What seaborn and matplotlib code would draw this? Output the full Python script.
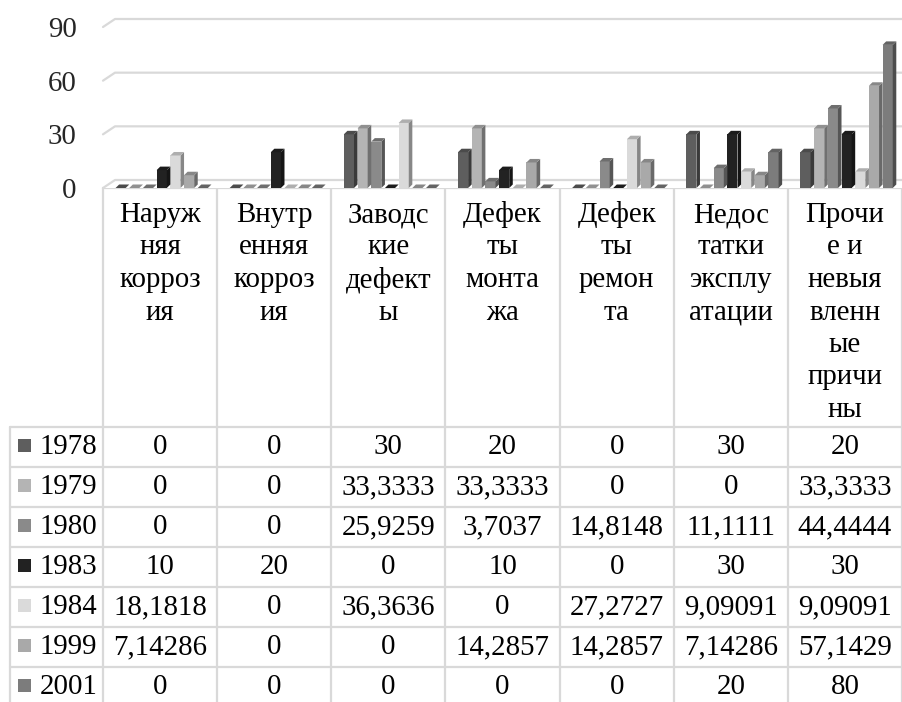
import matplotlib
matplotlib.use("Agg")
from matplotlib import pyplot as plt
from matplotlib.patches import Polygon, Rectangle
from matplotlib.lines import Line2D
from matplotlib.transforms import IdentityTransform
import pandas as pd
import seaborn as sns

# categories (full names) and the way Excel wraps them in the data table
categories = ["Наружняя коррозия", "Внутренняя коррозия", "Заводские дефекты",
              "Дефекты монтажа", "Дефекты ремонта", "Недостатки эксплуатации",
              "Прочие и невыявленные причины"]
category_labels = ["Наруж\nняя\nкорроз\nия", "Внутр\nенняя\nкорроз\nия",
                   "Заводс\nкие\nдефект\nы", "Дефек\nты\nмонта\nжа",
                   "Дефек\nты\nремон\nта", "Недос\nтатки\nэксплу\nатации",
                   "Прочи\nе и\nневыя\nвленн\nые\nпричи\nны"]
years = ["1978", "1979", "1980", "1983", "1984", "1999", "2001"]
v1978 = [0, 0, 30, 20, 0, 30, 20]
v1979 = [0, 0, 33.3333, 33.3333, 0, 0, 33.3333]
v1980 = [0, 0, 25.9259, 3.7037, 14.8148, 11.1111, 44.4444]
v1983 = [10, 20, 0, 10, 0, 30, 30]
v1984 = [18.1818, 0, 36.3636, 0, 27.2727, 9.09091, 9.09091]
v1999 = [7.14286, 0, 0, 14.2857, 14.2857, 7.14286, 57.1429]
v2001 = [0, 0, 0, 0, 0, 20, 80]
y_ticks = [0, 30, 60, 90]

colors = ["#5e5e5e", "#b4b4b4", "#8a8a8a", "#222222", "#dadada", "#a9a9a9", "#7c7c7c"]
GRID = "#d9d9d9"
FONT = ["Liberation Serif", "DejaVu Serif"]
FS = 20.8


def shade(c, k):
    r, g, b = matplotlib.colors.to_rgb(c)
    return (r * k, g * k, b * k)


def fmt(v):
    return f"{v:.6g}".replace(".", ",")


def main():
    sns.set_style("white")
    plt.rcParams["font.family"] = FONT

    series = [v1978, v1979, v1980, v1983, v1984, v1999, v2001]
    df = pd.DataFrame({y: s for y, s in zip(years, series)}, index=categories)
    df = df.reset_index(names="Причина").melt(id_vars="Причина", var_name="Год",
                                               value_name="Доля")

    W, H = 902, 702
    fig = plt.figure(figsize=(W / 100, H / 100), dpi=100)
    left_px, right_px, zero_px, top_px = 103, 902, 188, 27
    ax = fig.add_axes([left_px / W, (H - zero_px) / H,
                       (right_px - left_px) / W, (zero_px - top_px) / H])

    sns.barplot(data=df, x="Причина", y="Доля", hue="Год", palette=colors,
                width=0.84, saturation=1, legend=False, ax=ax, zorder=2)
    ax.set_xlim(-0.5, len(categories) - 0.5)
    ax.set_ylim(0, 90)

    # fake the 3-D look of Excel columns: narrower front, side and top faces
    dy = 3.5 / (zero_px - top_px) * 90
    for p in list(ax.patches):
        x0 = p.get_x() + 0.03
        w = p.get_width()
        h = p.get_height()
        c = p.get_facecolor()
        wf = w * 0.74
        sd = w - wf
        p.set_x(x0)
        p.set_width(wf)
        p.set_edgecolor("none")
        side = [(x0 + wf, 0), (x0 + wf + sd, dy), (x0 + wf + sd, h + dy), (x0 + wf, h)]
        top = [(x0, h), (x0 + wf, h), (x0 + wf + sd, h + dy), (x0 + sd, h + dy)]
        ax.add_patch(Polygon(side, closed=True, facecolor=shade(c, 0.62),
                             edgecolor="none", zorder=2))
        ax.add_patch(Polygon(top, closed=True, facecolor=shade(c, 0.8),
                             edgecolor="none", zorder=2))

    for s in ax.spines.values():
        s.set_visible(False)
    ax.set_xticks([])
    ax.set_xlabel("")
    ax.set_ylabel("")
    ax.set_yticks(y_ticks)
    ax.set_yticklabels([str(t) for t in y_ticks], fontsize=FS, family=FONT)
    ax.tick_params(axis="y", length=0, pad=19)
    ax.grid(False)

    # back-wall gridlines with the small perspective step at the left
    for v in y_ticks:
        fx, fy = ax.transData.transform((-0.5, v))
        rx, _ = ax.transData.transform((len(categories) - 0.5, v))
        ln = Line2D([fx, fx + 12, rx + 12], [fy, fy + 8, fy + 8], color=GRID,
                    lw=1.6, transform=IdentityTransform(), clip_on=False, zorder=0.5)
        ax.add_line(ln)

    # data table under the chart (pixel coordinates, y down)
    tab = fig.add_axes([0, 0, 1, 1], zorder=-1)
    tab.set_xlim(0, W)
    tab.set_ylim(H, 0)
    tab.axis("off")
    col_w = (right_px - left_px) / len(categories)
    edges = [left_px + col_w * i for i in range(len(categories) + 1)]
    head_bottom = 427
    row_h = 40
    leg_left = 10

    tab.plot([left_px, W], [zero_px, zero_px], color=GRID, lw=1.6)
    for x in edges:
        tab.plot([x, x], [zero_px, H], color=GRID, lw=1.6)
    tab.plot([leg_left, leg_left], [head_bottom, H], color=GRID, lw=1.6)
    for k in range(len(years) + 1):
        y = head_bottom + row_h * k
        tab.plot([leg_left, W], [y, y], color=GRID, lw=1.6)

    for i, lab in enumerate(category_labels):
        cx = (edges[i] + edges[i + 1]) / 2
        for j, line in enumerate(lab.split("\n")):
            tab.text(cx, 215 + 32.5 * j, line, ha="center", va="center",
                     fontsize=FS, family=FONT, color="black")

    for k, (yr, vals) in enumerate(zip(years, series)):
        cy = head_bottom + row_h * k + row_h / 2
        tab.add_patch(Rectangle((18, cy - 8), 13, 13, facecolor=colors[k],
                                edgecolor="none"))
        tab.text(40, cy, yr, ha="left", va="center", fontsize=FS, family=FONT,
                 color="black")
        for i, v in enumerate(vals):
            cx = (edges[i] + edges[i + 1]) / 2
            tab.text(cx, cy, fmt(v), ha="center", va="center", fontsize=FS,
                     family=FONT, color="black")

    fig.savefig("out.png", dpi=100)


if __name__ == "__main__":
    main()
